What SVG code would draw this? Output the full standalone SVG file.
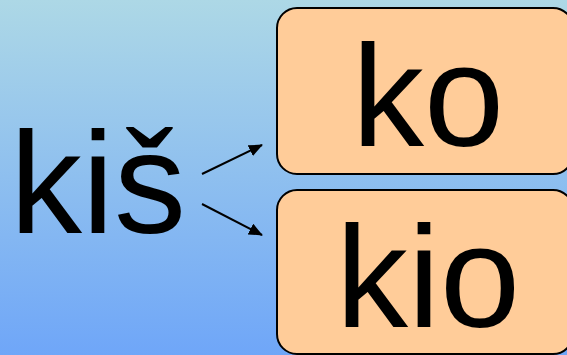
<svg xmlns="http://www.w3.org/2000/svg" width="567" height="355" viewBox="0 0 567 355">
<defs>
<linearGradient id="bg" x1="0" y1="0" x2="0" y2="1">
<stop offset="0" stop-color="#add8e6"/>
<stop offset="1" stop-color="#6fa6f8"/>
</linearGradient>
<marker id="ah" viewBox="0 0 14 12" refX="13" refY="6" markerWidth="14" markerHeight="12" orient="auto" markerUnits="userSpaceOnUse">
<path d="M0,0 L14,6 L0,12 z" fill="#000"/>
</marker>
</defs>
<style>
.t{font-family:"Liberation Sans",Arial,sans-serif;font-size:144px;fill:#000}
.box{fill:#ffcc99;stroke:#000;stroke-width:2}
.arr{stroke:#000;stroke-width:2;fill:none;marker-end:url(#ah)}
</style>
<rect x="0" y="0" width="567" height="355" fill="url(#bg)"/>
<g id="kis">
<text class="t" x="10" y="233">kiš</text>
</g>
<g id="ko">
<rect class="box" x="277" y="8" width="296" height="166" rx="20"/>
<text class="t" x="428" y="146" text-anchor="middle">ko</text>
</g>
<g id="kio">
<rect class="box" x="277" y="190" width="296" height="164" rx="20"/>
<text class="t" x="428" y="327" text-anchor="middle">kio</text>
</g>
<g id="connectors">
<line class="arr" x1="202" y1="174" x2="262" y2="145"/>
<line class="arr" x1="202" y1="204" x2="262" y2="235"/>
</g>
</svg>
